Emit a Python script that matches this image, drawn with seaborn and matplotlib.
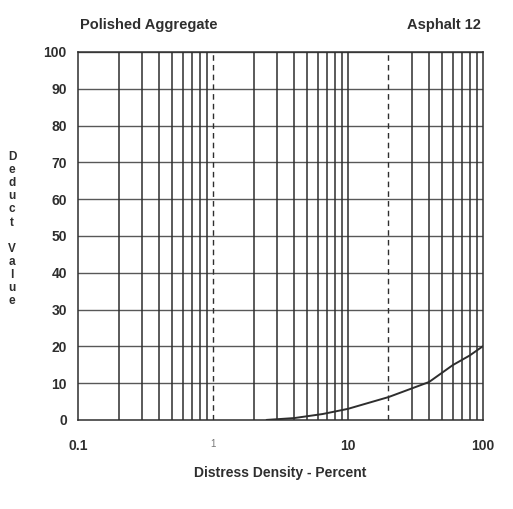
import numpy as np
import pandas as pd
import matplotlib
matplotlib.use("Agg")
import matplotlib.pyplot as plt
import seaborn as sns

# Values
density = [2.5, 4.0, 6.5, 10, 20, 40, 60, 80, 100]
deduct = [0.0, 0.5, 1.6, 3.0, 6.2, 10.3, 14.9, 17.5, 20.0]

x_ticks = [0.1, 1, 10, 100]
x_tick_labels = ["0.1", "1", "10", "100"]
y_ticks = list(range(0, 101, 10))

df = pd.DataFrame({"Density": density, "Deduct": deduct})

sns.set_style("white")
plt.rcParams["font.family"] = ["Liberation Sans", "DejaVu Sans"]

fig = plt.figure(figsize=(5.13, 5.09), dpi=100)
ax = fig.add_axes([0.152, 0.175, 0.789, 0.723])

ink = "#2e2e2e"

# log grid
ax.set_xscale("log")
for dec in [0.1, 1, 10]:
    for m in range(1, 10):
        xv = dec * m
        if xv == 1 or xv == 20:
            ax.axvline(xv, color=ink, lw=1.0, ls=(0, (4, 3)), zorder=1)
        elif xv > 0.1:
            ax.axvline(xv, color=ink, lw=1.1, zorder=1)
for yv in y_ticks[1:]:
    ax.axhline(yv, color=ink, lw=1.0, zorder=1, alpha=0.8)

sns.lineplot(data=df, x="Density", y="Deduct", ax=ax, color=ink, lw=1.4, zorder=3)

ax.set_xlim(0.1, 100)
ax.set_ylim(0, 100)
ax.set_xticks(x_ticks)
ax.set_xticklabels(x_tick_labels)
ax.xaxis.set_minor_locator(matplotlib.ticker.NullLocator())
ax.set_yticks(y_ticks)
ax.tick_params(axis="y", length=6, width=1, color=ink, labelsize=10, labelcolor=ink, pad=2)
ax.tick_params(axis="x", length=0, labelsize=10, labelcolor=ink, pad=14)
for lbl in ax.get_xticklabels() + ax.get_yticklabels():
    lbl.set_fontweight("bold")
ax.get_xticklabels()[1].set_fontsize(7)
ax.get_xticklabels()[1].set_fontweight("normal")
ax.get_xticklabels()[1].set_color("#777777")

for s in ax.spines.values():
    s.set_color(ink)
    s.set_linewidth(1.1)

ax.set_xlabel("Distress Density - Percent", fontsize=10, fontweight="bold", color=ink, labelpad=9)
ax.set_ylabel("")

fig.text(0.156, 0.95, "Polished Aggregate", fontsize=10.5, fontweight="bold", color=ink, va="center")
fig.text(0.937, 0.95, "Asphalt 12", fontsize=10.5, fontweight="bold", color=ink, va="center", ha="right")

ylab = "\n".join(list("Deduct")) + "\n\n" + "\n".join(list("Value"))
fig.text(0.024, 0.55, ylab, fontsize=8.5, fontweight="bold", color=ink, va="center", ha="center",
         linespacing=1.12)

fig.savefig("out.png", dpi=100)
